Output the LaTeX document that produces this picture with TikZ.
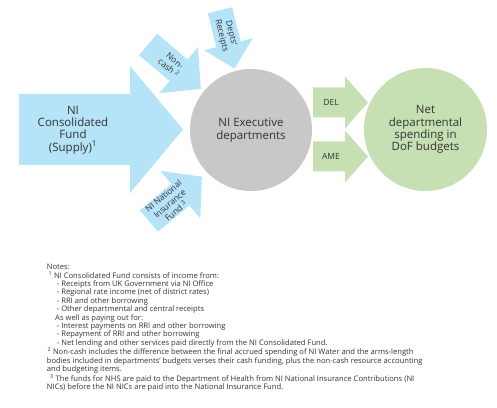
\documentclass[tikz,border=0pt]{standalone}
\usepackage{fontspec}
\setmainfont{Open Sans}
\usepackage{xcolor}
\usepackage{tikz}
\definecolor{flowblue}{HTML}{B5E3F8}
\definecolor{execgrey}{HTML}{C8C8C8}
\definecolor{spendgreen}{HTML}{C6E0B4}
\definecolor{inktext}{HTML}{333333}

\begin{document}
\begin{tikzpicture}[x=1pt, y=1pt,
  inflow/.style={fill=flowblue},
  outflow/.style={fill=spendgreen},
  label/.style={text=inktext, align=center, inner sep=0pt},
  small/.style={label, font=\fontsize{8.5}{9.8}\selectfont},
  big/.style={label, font=\fontsize{11.5}{12.2}\selectfont}]
\useasboundingbox (0,0) rectangle (497,407);

% Big supply arrow
\fill[inflow] (19,242) -- (130,242) -- (130,214) -- (183,277.5) -- (130,341) -- (130,313) -- (19,313) -- cycle;
\node[big] (supply) at (73,277) {NI\\Consolidated\\Fund\\(Supply)\textsuperscript{1}};

% Small inflow arrows round the departments
\begin{scope}[shift={(148,362.5)}, rotate=-40]
\fill[inflow] (0,-14) -- (40,-14) -- (40,-30) -- (69,0) -- (40,30) -- (40,14) -- (0,14) -- cycle;
\node[small, rotate=-40] (noncash) at (31,0) {Non-\\cash \textsuperscript{2}};
\end{scope}
\begin{scope}[shift={(220,396.7)}, rotate=-76]
\fill[inflow] (0,-12.5) -- (35,-12.5) -- (35,-25) -- (60,0) -- (35,25) -- (35,12.5) -- (0,12.5) -- cycle;
\node[small, rotate=-76] (receipts) at (25,0) {Depts'\\Receipts};
\end{scope}
\begin{scope}[shift={(149,186)}, rotate=40]
\fill[inflow] (0,-14) -- (41,-14) -- (41,-31) -- (69,0) -- (41,31) -- (41,14) -- (0,14) -- cycle;
\node[small, rotate=40] (nif) at (27,0) {NI National\\Insurance\\Fund \textsuperscript{3}};
\end{scope}

% Departments circle
\node[circle, fill=execgrey, minimum size=122pt, big, font=\fontsize{11.5}{13.3}\selectfont] (exec) at (251,277) {NI Executive\\departments};

% DEL and AME arrows
\foreach \y/\budget in {304.5/DEL, 250.5/AME} {
  \fill[outflow] (313,\y-15) -- (345,\y-15) -- (345,\y-26) -- (368,\y) -- (345,\y+26) -- (345,\y+15) -- (313,\y+15) -- cycle;
  \node[label, font=\fontsize{8.5}{9}\selectfont] (\budget) at (331,\y) {\budget};
}

% Spending circle
\node[circle, fill=spendgreen, minimum size=123pt, big] (net) at (425.5,277.5) {Net\\departmental\\spending in\\DoF budgets};

% Notes
\node[label, align=left, anchor=north west, font=\fontsize{7.6}{8.4}\selectfont] (notes) at (46.7,143) {%
Notes:\\
\hspace*{1.6pt}\textsuperscript{1} NI Consolidated Fund consists of income from:\\
\hspace*{10pt}- Receipts from UK Government via NI Office\\
\hspace*{10pt}- Regional rate income (net of district rates)\\
\hspace*{10pt}- RRI and other borrowing\\
\hspace*{10pt}- Other departmental and central receipts\\
\hspace*{8.3pt}As well as paying out for:\\
\hspace*{10pt}- Interest payments on RRI and other borrowing\\
\hspace*{10pt}- Repayment of RRI and other borrowing\\
\hspace*{10pt}- Net lending and other services paid directly from the NI Consolidated Fund.\\
\hspace*{0.6pt}\textsuperscript{2} Non-cash includes the difference between the final accrued spending of NI Water and the arms-length\\
bodies included in departments' budgets verses their cash funding, plus the non-cash resource accounting\\
and budgeting items.\\
\hspace*{3.3pt}\textsuperscript{3} The funds for NHS are paid to the Department of Health from NI National Insurance Contributions (NI\\
NICs) before the NI NICs are paid into the National Insurance Fund.};

\end{tikzpicture}
\end{document}
